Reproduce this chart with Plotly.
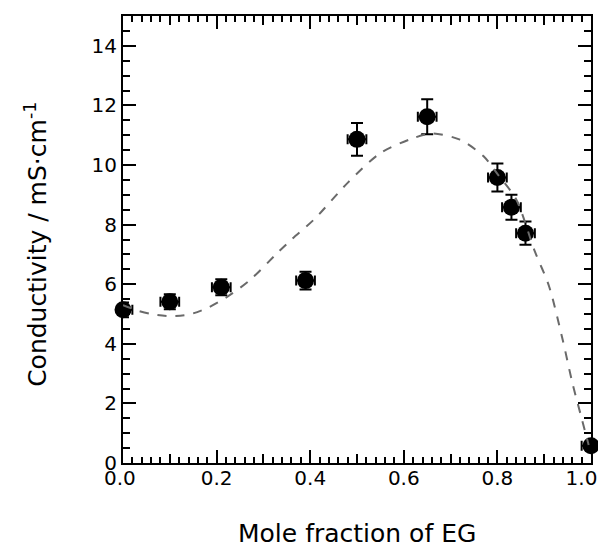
import plotly.graph_objects as go

# Measured data
mole_fraction = [0.0, 0.10, 0.21, 0.39, 0.50, 0.65, 0.80, 0.83, 0.86, 1.0]
conductivity = [5.14, 5.41, 5.90, 6.12, 10.86, 11.62, 9.58, 8.58, 7.71, 0.58]
cond_err = [0.25, 0.25, 0.27, 0.30, 0.55, 0.59, 0.47, 0.42, 0.39, 0.15]
x_err = [0.02, 0.02, 0.02, 0.02, 0.02, 0.02, 0.02, 0.02, 0.02, 0.02]

# Fit curve
fit_x = [0.0, 0.03, 0.06, 0.10, 0.14, 0.18, 0.22, 0.27, 0.33, 0.36, 0.41, 0.48,
         0.55, 0.62, 0.66, 0.72, 0.77, 0.80, 0.84, 0.88, 0.91, 0.94, 0.96, 0.98, 0.995]
fit_y = [5.3, 5.12, 5.0, 4.93, 4.98, 5.2, 5.55, 6.12, 7.05, 7.5, 8.2, 9.4,
         10.4, 10.9, 11.06, 10.85, 10.3, 9.7, 8.85, 7.1, 5.95, 4.1, 2.7, 1.5, 0.6]

NBSP = "\u00a0"
x_major = [0.0, 0.2, 0.4, 0.6, 0.8, 1.0]
x_major_labels = ["0.0" + NBSP, "0.2", "0.4", "0.6", "0.8", "1.0" + NBSP * 3]
x_medium = [0.1, 0.3, 0.5, 0.7, 0.9]
y_major = [0, 2, 4, 6, 8, 10, 12, 14]

x_title = "Mole fraction of EG"
y_title = "Conductivity / mS·cm<sup>-1</sup>"

FONT = "DejaVu Sans"

fig = go.Figure()
fig.add_trace(go.Scatter(
    x=mole_fraction, y=conductivity, mode="markers",
    marker=dict(size=17, color="black"),
    error_y=dict(type="data", array=cond_err, color="black", thickness=2, width=6),
    error_x=dict(type="data", array=x_err, color="black", thickness=2, width=5),
    showlegend=False, cliponaxis=False,
))
fig.add_trace(go.Scatter(
    x=fit_x, y=fit_y, mode="lines",
    line=dict(color="#6a6a6a", width=2, dash="dash", shape="spline", smoothing=0.8),
    showlegend=False,
))
# invisible trace on overlay axis to activate medium ticks
fig.add_trace(go.Scatter(x=[0, 1], y=[0, 0], xaxis="x2", mode="lines",
                         line=dict(width=0), hoverinfo="skip", showlegend=False))

# page body has an 8px default margin, so the figure is 8px smaller
fig.update_layout(
    width=598, height=539,
    margin=dict(l=115, r=15, t=8, b=84),
    paper_bgcolor="white", plot_bgcolor="white",
    font=dict(family=FONT, color="black"),
    xaxis=dict(
        range=[0, 1], tickvals=x_major, ticktext=x_major_labels, automargin=False,
        ticks="inside", ticklen=13, tickwidth=2, tickcolor="black",
        showline=True, linewidth=2, linecolor="black", mirror="ticks",
        showgrid=False, zeroline=False, ticklabeloverflow="allow",
        ticklabelstandoff=-4,
        tickfont=dict(size=20, family=FONT),
        minor=dict(dtick=0.02, tick0=0, ticks="inside", ticklen=6, tickwidth=2,
                   tickcolor="black", showgrid=False),
    ),
    xaxis2=dict(
        overlaying="x", anchor="y", range=[0, 1], tickvals=x_medium, automargin=False,
        ticks="inside", ticklen=9, tickwidth=2, tickcolor="black",
        showticklabels=False, showgrid=False, zeroline=False, showline=False,
        mirror="ticks", side="bottom",
    ),
    yaxis=dict(
        range=[0, 15], tickvals=y_major, automargin=False,
        ticks="inside", ticklen=13, tickwidth=2, tickcolor="black",
        showline=True, linewidth=2, linecolor="black", mirror="ticks",
        showgrid=False, zeroline=False, ticklabeloverflow="allow",
        tickfont=dict(size=20, family=FONT),
        minor=dict(dtick=0.5, tick0=0, ticks="inside", ticklen=7, tickwidth=2,
                   tickcolor="black", showgrid=False),
    ),
    annotations=[
        dict(text=x_title, xref="paper", yref="paper", x=0.5, y=-0.157,
             xanchor="center", yanchor="middle", showarrow=False,
             font=dict(size=25, family=FONT)),
        dict(text=y_title, xref="paper", yref="paper", x=-0.184, y=0.49,
             xanchor="center", yanchor="middle", showarrow=False, textangle=-90,
             font=dict(size=25, family=FONT)),
    ],
)

fig.write_html("out.html")
